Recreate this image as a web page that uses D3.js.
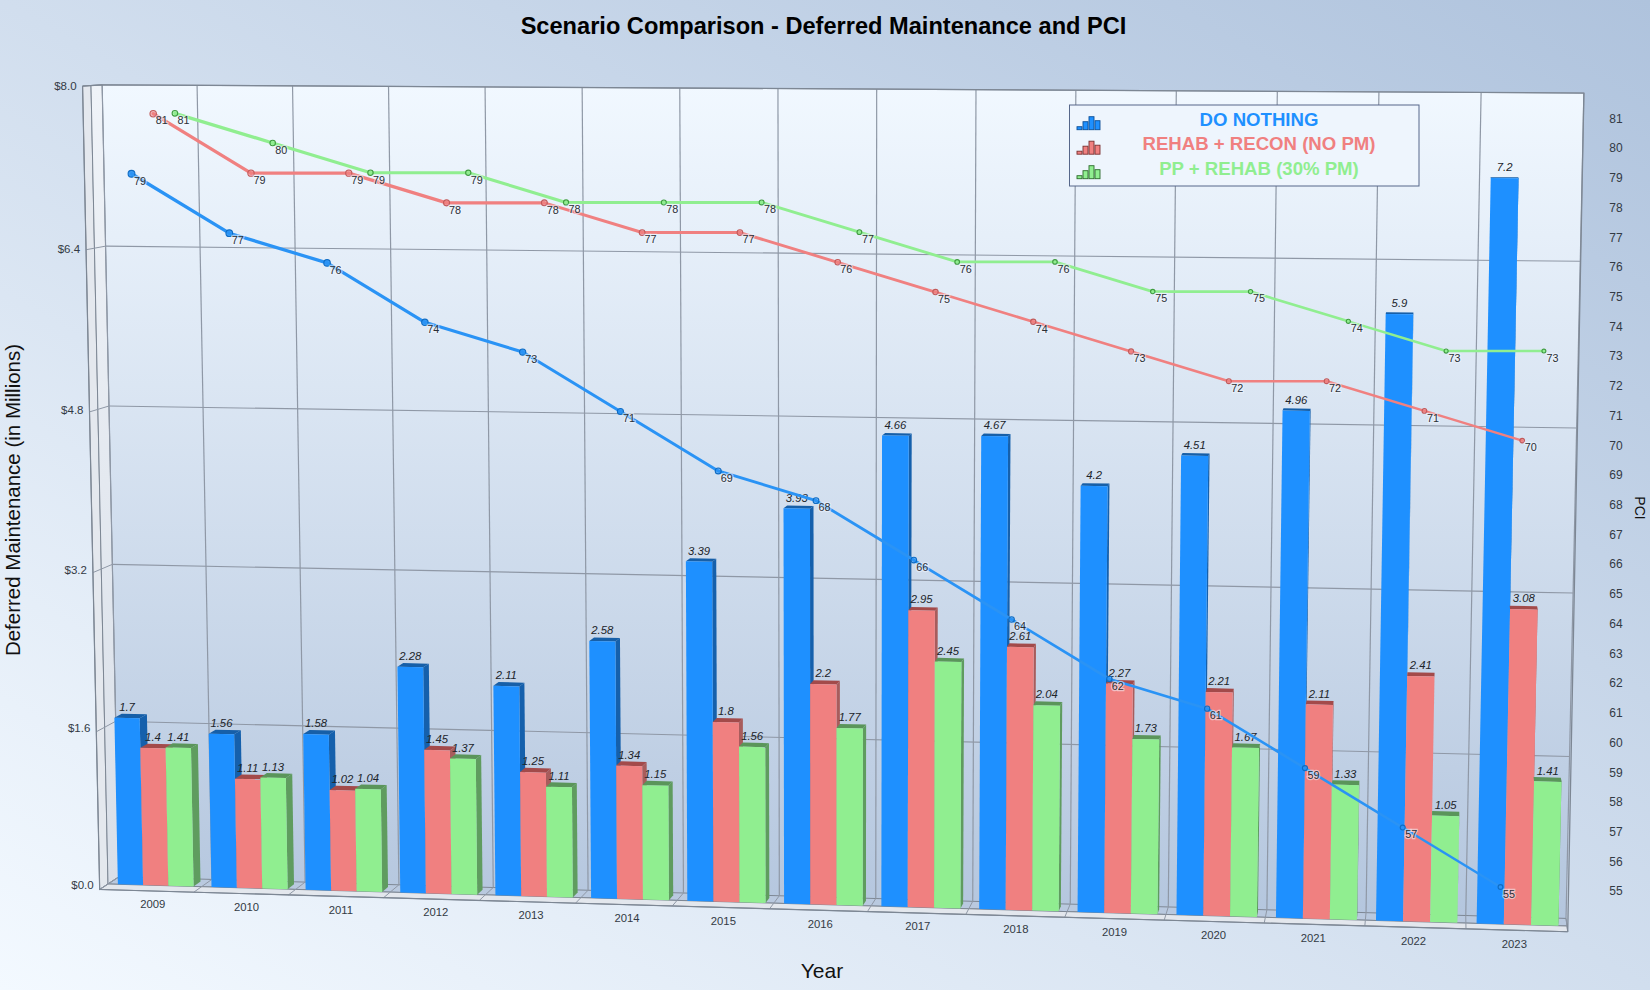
<!DOCTYPE html>
<html><head><meta charset="utf-8">
<script src="https://cdn.jsdelivr.net/npm/d3@7"></script>
<style>
html,body{margin:0;padding:0;background:#fff}
svg{display:block}
text{font-family:"Liberation Sans",Arial,sans-serif}
</style></head><body><svg id="c" width="1650" height="990"></svg>
<script>
const years=[2009,2010,2011,2012,2013,2014,2015,2016,2017,2018,2019,2020,2021,2022,2023];
const seriesNames=["DO NOTHING","REHAB + RECON (NO PM)","PP + REHAB (30% PM)"];
const doNothing=[1.7,1.56,1.58,2.28,2.11,2.58,3.39,3.93,4.66,4.67,4.2,4.51,4.96,5.9,7.2];
const rehabRecon=[1.4,1.11,1.02,1.45,1.25,1.34,1.8,2.2,2.95,2.61,2.27,2.21,2.11,2.41,3.08];
const ppRehab=[1.41,1.13,1.04,1.37,1.11,1.15,1.56,1.77,2.45,2.04,1.73,1.67,1.33,1.05,1.41];
const pciDoNothing=[79,77,76,74,73,71,69,68,66,64,62,61,59,57,55];
const pciRehabRecon=[81,79,79,78,78,77,77,76,75,74,73,72,72,71,70];
const pciPpRehab=[81,80,79,79,78,78,78,77,76,76,75,75,74,73,73];
const dollarTicks=[0,1.6,3.2,4.8,6.4,8];
const pciTicks=d3.range(55,82);
const faceColors=["#1e90ff","#f08080","#90ee90"];
const sideColors=["#1560ac","#a85c5c","#5f9c5f"];
const topColors=["#165fa8","#a34a4a","#5a955a"];
const lineColors=["#2a93f5","#f08080","#90ee90"];
const markerColors=["#0f6cc4","#c25a5a","#3f9c3f"];
const iconBars=[3,8,13,9];

const svg=d3.select("#c");
const defs=svg.append("defs");
function grad(id,a,b,x1,y1,x2,y2){
  const g=defs.append("linearGradient").attr("id",id).attr("x1",x1).attr("y1",y1).attr("x2",x2).attr("y2",y2);
  g.append("stop").attr("offset",0).attr("stop-color",a);
  g.append("stop").attr("offset",1).attr("stop-color",b);
}
grad("bg","#f3f9ff","#afc3dd",0,1,1,0);
grad("wall","#f1f8ff","#b4c6de",0,0,0,1);
grad("side","#eff3f8","#d9dfe8",0,0,0,1);
svg.append("rect").attr("width",1650).attr("height",990).attr("fill","url(#bg)");

// perspective frame: the front plane of the 3D box, and the point depth recedes to
const corners=[[91,85.5],[1585,93.8],[1567,926],[108,884]];
const vanish=[1450,0], backK=0.0082, barK=0.0055, rimK=-0.0062;
const [[x0,y0],[x1,y1],[x2,y2],[x3,y3]]=corners;
const sx=x0-x1+x2-x3, sy=y0-y1+y2-y3, dx1=x1-x2, dx2=x3-x2, dy1=y1-y2, dy2=y3-y2, den=dx1*dy2-dx2*dy1;
const g_=(sx*dy2-dx2*sy)/den, h_=(dx1*sy-sx*dy1)/den;
const a_=x1-x0+g_*x1, b_=x3-x0+h_*x3, d_=y1-y0+g_*y1, e_=y3-y0+h_*y3;
function P(u,v,k=0){
  const w=g_*u+h_*v+1;
  const x=(a_*u+b_*v+x0)/w, y=(d_*u+e_*v+y0)/w;
  return [x+(vanish[0]-x)*k, y+(vanish[1]-y)*k];
}
const xBand=d3.scaleBand().domain(years).range([0,1]);
const yVal=d3.scaleLinear().domain([0,8]).range([1,0]);
const seriesBand=d3.scaleBand().domain([0,1,2]);
const closed=d3.line().curve(d3.curveLinearClosed);
const open=d3.line();
const poly=(pts,fill,stroke,sw)=>svg.append("path").attr("d",closed(pts)).attr("fill",fill).attr("stroke",stroke||"none").attr("stroke-width",sw||0).attr("stroke-linejoin","round");
const seg=(pts,c="#8b94a2",w=1.2)=>svg.append("path").attr("d",open(pts)).attr("fill","none").attr("stroke",c).attr("stroke-width",w);

const B=1, T=0, gridC="#8f98a6", edgeC="#7d8794";
// walls
poly([P(0,T,backK),P(1,T,backK),P(1,B,backK),P(0,B,backK)],"url(#wall)");
poly([P(0,T,rimK),P(0,T,0),P(0,B,0),P(0,B,rimK)],"#e4e8ee",edgeC,1);
poly([P(0,T,0),P(0,T,backK),P(0,B,backK),P(0,B,0)],"url(#side)",edgeC,1);
// floor and plate
poly([P(0,B,0),P(1,B,0),P(1,B,backK),P(0,B,backK)],"#b9c9df",edgeC,1);
poly([P(0,B,rimK),P(1,B,rimK),P(1,B,0),P(0,B,0)],"#e3e7ed",edgeC,1);
// grid
dollarTicks.forEach(t=>{
  const v=yVal(t);
  if(t>0) seg([P(0,v,backK),P(1,v,backK)],gridC,1.1);
  seg([P(0,v,rimK),P(0,v,0),P(0,v,backK)],gridC,1);
  svg.append("text").attr("x",P(0,v,rimK)[0]-6).attr("y",P(0,v,0)[1]+0.5).attr("dy","0.35em")
    .attr("text-anchor","end").attr("font-size",11.5).attr("fill","#333a44").text("$"+t.toFixed(1));
});
const bounds=years.map(y=>xBand(y)).concat([1]);
bounds.forEach(u=>{
  seg([P(u,T,backK),P(u,B,backK)],gridC,1.2);
  seg([P(u,B,backK),P(u,B,0),P(u,B,rimK)],gridC,1);
});
seg([P(0,T,rimK),P(0,T,backK),P(1,T,backK),P(1,B,rimK)],edgeC,1.3);
seg([P(0,T,rimK),P(0,B,rimK),P(1,B,rimK)],edgeC,1.2);

// year labels
years.forEach(y=>{
  const u=xBand(y)+xBand.bandwidth()/2, p=P(u,B,rimK), f=P(u,B,0);
  svg.append("text").attr("x",f[0]-2).attr("y",p[1]+13.5).attr("dy","0.35em").attr("text-anchor","middle")
    .attr("font-size",11.3).attr("fill","#333a44").text(y);
});

// bars
const barSeries=[doNothing,rehabRecon,ppRehab];
const labels=[];
years.forEach((y,i)=>{
  const st=xBand(y), w=xBand.bandwidth();
  seriesBand.range([st+w*0.106,st+w*0.915]);
  barSeries.forEach((vals,s)=>{
    const u0=seriesBand(s), u1=u0+seriesBand.bandwidth(), v=yVal(vals[i]);
    poly([P(u1,v),P(u1,v,barK),P(u1,B,barK),P(u1,B)],sideColors[s]);
    poly([P(u0,v),P(u1,v),P(u1,v,barK),P(u0,v,barK)],topColors[s]);
    poly([P(u0,v),P(u1,v),P(u1,B),P(u0,B)],faceColors[s]);
    const c=P((u0+u1)/2,v);
    labels.push({x:c[0],y:c[1]-11,t:vals[i]});
  });
});
labels.forEach(l=>svg.append("text").attr("x",l.x).attr("y",l.y).attr("dy","0.35em").attr("text-anchor","middle")
  .attr("font-size",11.3).attr("font-style","italic").attr("fill","#20242a").text(l.t));

// PCI lines are drawn flat over the 3D box
const xPci=d3.scaleLinear().domain([0,14]).range([131.5,1500.5]);
const yPci=d3.scaleLinear().domain([55,81]).range([887,114.3]);
const lineOffsets=[0,21.7,43.4];
const seriesDy=[0,-0.6,-1];
const widthAt=d3.scaleLinear().domain([0,14]).range([3.3,2.4]);
const radiusAt=d3.scaleLinear().domain([0,14]).range([3.4,2.4]);
const pciSeries=[pciDoNothing,pciRehabRecon,pciPpRehab];
pciSeries.forEach((vals,s)=>{
  vals.slice(1).forEach((v,i)=>{
    seg([[xPci(i)+lineOffsets[s],yPci(vals[i])+seriesDy[s]],[xPci(i+1)+lineOffsets[s],yPci(v)+seriesDy[s]]],lineColors[s],widthAt(i)).attr("stroke-linecap","round");
  });
});
pciSeries.forEach((vals,s)=>{
  const rs=s===2?0.82:s===1?0.95:1;
  vals.forEach((v,i)=>{
    const x=xPci(i)+lineOffsets[s], y=yPci(v)+seriesDy[s];
    svg.append("circle").attr("cx",x).attr("cy",y).attr("r",radiusAt(i)*rs)
      .attr("fill",lineColors[s]).attr("fill-opacity",i<6&&s===0?0.9:0.55).attr("stroke",markerColors[s]).attr("stroke-width",1.1);
    svg.append("text").attr("x",x+8.5).attr("y",y+7).attr("dy","0.35em").attr("text-anchor","middle")
      .attr("font-size",10.8).attr("fill","#2b2f36")
      .attr("stroke","rgba(240,246,255,0.55)").attr("stroke-width",2.5).attr("paint-order","stroke").text(v);
  });
});
pciTicks.forEach(t=>{
  svg.append("text").attr("x",1616).attr("y",yPci(t)+4.2).attr("dy","0.35em").attr("text-anchor","middle")
    .attr("font-size",12).attr("fill","#333a44").text(t);
});

// titles
svg.append("text").attr("x",823.5).attr("y",26).attr("dy","0.35em").attr("text-anchor","middle")
  .attr("font-size",23.6).attr("font-weight","bold").attr("fill","#000").text("Scenario Comparison - Deferred Maintenance and PCI");
svg.append("text").attr("transform","translate(13,500) rotate(-90)").attr("dy","0.35em").attr("text-anchor","middle")
  .attr("font-size",20.5).attr("fill","#111").text("Deferred Maintenance (in Millions)");
svg.append("text").attr("transform","translate(1640,508) rotate(90)").attr("dy","0.35em").attr("text-anchor","middle")
  .attr("font-size",14).attr("fill","#111").text("PCI");
svg.append("text").attr("x",822).attr("y",971).attr("dy","0.35em").attr("text-anchor","middle")
  .attr("font-size",21).attr("fill","#111").text("Year");

// legend
svg.append("rect").attr("x",1069.5).attr("y",105).attr("width",349.5).attr("height",81)
  .attr("fill","#eef5fd").attr("stroke","#56678a").attr("stroke-width",1);
const legendY=d3.scalePoint().domain([0,1,2]).range([119.2,168.2]);
const iconDark=["#0d4f96","#7a3030","#2b6b2b"];
seriesNames.forEach((n,s)=>{
  const cy=legendY(s);
  svg.append("text").attr("x",1259).attr("y",cy).attr("dy","0.35em").attr("text-anchor","middle")
    .attr("font-size",18.6).attr("font-weight","bold").attr("fill",faceColors[s]).text(n);
  iconBars.forEach((h,j)=>{
    svg.append("rect").attr("x",1077+j*6).attr("y",cy+10.5-h).attr("width",5).attr("height",h)
      .attr("fill",faceColors[s]).attr("stroke",iconDark[s]).attr("stroke-width",0.9);
  });
});
</script></body></html>
